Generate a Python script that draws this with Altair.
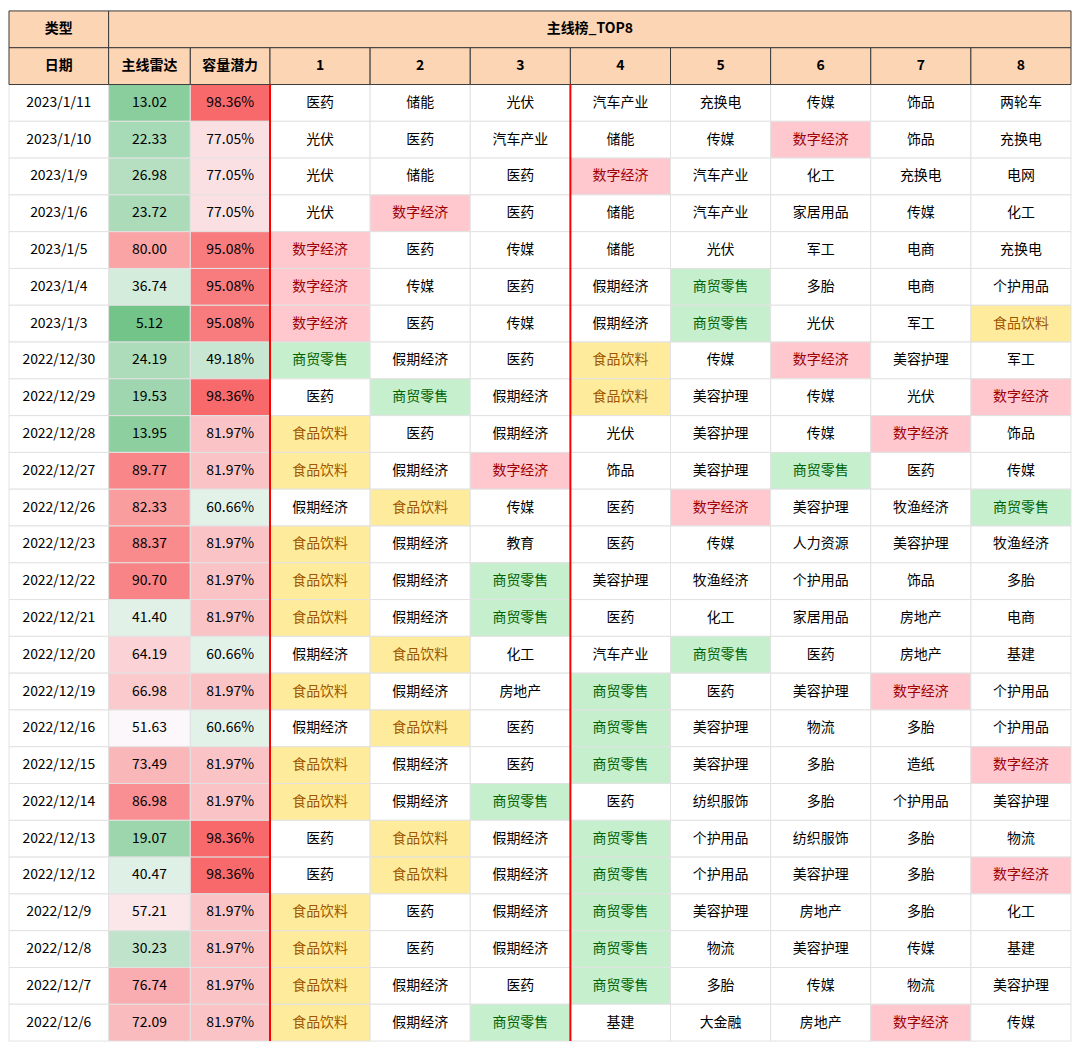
import altair as alt
import pandas as pd

# ---------------- data ----------------
dates = ["2023/1/11", "2023/1/10", "2023/1/9", "2023/1/6", "2023/1/5", "2023/1/4", "2023/1/3",
         "2022/12/30", "2022/12/29", "2022/12/28", "2022/12/27", "2022/12/26", "2022/12/23",
         "2022/12/22", "2022/12/21", "2022/12/20", "2022/12/19", "2022/12/16", "2022/12/15",
         "2022/12/14", "2022/12/13", "2022/12/12", "2022/12/9", "2022/12/8", "2022/12/7", "2022/12/6"]

radar = [13.02, 22.33, 26.98, 23.72, 80.00, 36.74, 5.12, 24.19, 19.53, 13.95, 89.77, 82.33, 88.37,
         90.70, 41.40, 64.19, 66.98, 51.63, 73.49, 86.98, 19.07, 40.47, 57.21, 30.23, 76.74, 72.09]

capacity = [0.9836, 0.7705, 0.7705, 0.7705, 0.9508, 0.9508, 0.9508, 0.4918, 0.9836, 0.8197, 0.8197,
            0.6066, 0.8197, 0.8197, 0.8197, 0.6066, 0.8197, 0.6066, 0.8197, 0.8197, 0.9836, 0.9836,
            0.8197, 0.8197, 0.8197, 0.8197]

top8 = [
    ["医药", "储能", "光伏", "汽车产业", "充换电", "传媒", "饰品", "两轮车"],
    ["光伏", "医药", "汽车产业", "储能", "传媒", "数字经济", "饰品", "充换电"],
    ["光伏", "储能", "医药", "数字经济", "汽车产业", "化工", "充换电", "电网"],
    ["光伏", "数字经济", "医药", "储能", "汽车产业", "家居用品", "传媒", "化工"],
    ["数字经济", "医药", "传媒", "储能", "光伏", "军工", "电商", "充换电"],
    ["数字经济", "传媒", "医药", "假期经济", "商贸零售", "多胎", "电商", "个护用品"],
    ["数字经济", "医药", "传媒", "假期经济", "商贸零售", "光伏", "军工", "食品饮料"],
    ["商贸零售", "假期经济", "医药", "食品饮料", "传媒", "数字经济", "美容护理", "军工"],
    ["医药", "商贸零售", "假期经济", "食品饮料", "美容护理", "传媒", "光伏", "数字经济"],
    ["食品饮料", "医药", "假期经济", "光伏", "美容护理", "传媒", "数字经济", "饰品"],
    ["食品饮料", "假期经济", "数字经济", "饰品", "美容护理", "商贸零售", "医药", "传媒"],
    ["假期经济", "食品饮料", "传媒", "医药", "数字经济", "美容护理", "牧渔经济", "商贸零售"],
    ["食品饮料", "假期经济", "教育", "医药", "传媒", "人力资源", "美容护理", "牧渔经济"],
    ["食品饮料", "假期经济", "商贸零售", "美容护理", "牧渔经济", "个护用品", "饰品", "多胎"],
    ["食品饮料", "假期经济", "商贸零售", "医药", "化工", "家居用品", "房地产", "电商"],
    ["假期经济", "食品饮料", "化工", "汽车产业", "商贸零售", "医药", "房地产", "基建"],
    ["食品饮料", "假期经济", "房地产", "商贸零售", "医药", "美容护理", "数字经济", "个护用品"],
    ["假期经济", "食品饮料", "医药", "商贸零售", "美容护理", "物流", "多胎", "个护用品"],
    ["食品饮料", "假期经济", "医药", "商贸零售", "美容护理", "多胎", "造纸", "数字经济"],
    ["食品饮料", "假期经济", "商贸零售", "医药", "纺织服饰", "多胎", "个护用品", "美容护理"],
    ["医药", "食品饮料", "假期经济", "商贸零售", "个护用品", "纺织服饰", "多胎", "物流"],
    ["医药", "食品饮料", "假期经济", "商贸零售", "个护用品", "美容护理", "多胎", "数字经济"],
    ["食品饮料", "医药", "假期经济", "商贸零售", "美容护理", "房地产", "多胎", "化工"],
    ["食品饮料", "医药", "假期经济", "商贸零售", "物流", "美容护理", "传媒", "基建"],
    ["食品饮料", "假期经济", "医药", "商贸零售", "多胎", "传媒", "物流", "美容护理"],
    ["食品饮料", "假期经济", "商贸零售", "基建", "大金融", "房地产", "数字经济", "传媒"],
]

header_top = ["类型", "主线榜_TOP8"]
header_cols = ["日期", "主线雷达", "容量潜力", "1", "2", "3", "4", "5", "6", "7", "8"]
highlights = ["数字经济", "商贸零售", "食品饮料"]

# ---------------- layout (computed) ----------------
FONT = "Noto Sans CJK SC"
col_widths = [100, 82, 80] + [100.5] * 8
edges = [0]
for w in col_widths:
    edges.append(edges[-1] + w)
W = edges[-1]
ROW_H = 36.93
n_rows = len(dates) + 2
H = round(n_rows * ROW_H)

xs = alt.Scale(domain=[0, W], nice=False, zero=False)
ys = alt.Scale(domain=[0, n_rows], nice=False, zero=False, reverse=True)

# header cells
hdr = [dict(x0=edges[0], x1=edges[1], r0=0, r1=1, text=header_top[0]),
       dict(x0=edges[1], x1=edges[-1], r0=0, r1=1, text=header_top[1])]
for i, t in enumerate(header_cols):
    hdr.append(dict(x0=edges[i], x1=edges[i + 1], r0=1, r1=2, text=t))
hdr_df = pd.DataFrame(hdr)
hdr_df["xc"] = (hdr_df.x0 + hdr_df.x1) / 2
hdr_df["yc"] = hdr_df.r0 + 0.5

# plain cells (date + top8)
plain = []
radar_rows, cap_rows = [], []
for r, d in enumerate(dates):
    rr = r + 2
    plain.append(dict(x0=edges[0], x1=edges[1], r0=rr, r1=rr + 1, text=d, hl="其他"))
    radar_rows.append(dict(x0=edges[1], x1=edges[2], r0=rr, r1=rr + 1, value=radar[r]))
    cap_rows.append(dict(x0=edges[2], x1=edges[3], r0=rr, r1=rr + 1, value=capacity[r]))
    for j, name in enumerate(top8[r]):
        c = 3 + j
        plain.append(dict(x0=edges[c], x1=edges[c + 1], r0=rr, r1=rr + 1, text=name,
                          hl=name if name in highlights else "其他"))
plain_df = pd.DataFrame(plain)
radar_df = pd.DataFrame(radar_rows)
cap_df = pd.DataFrame(cap_rows)
for df in (plain_df, radar_df, cap_df):
    df["xc"] = (df.x0 + df.x1) / 2
    df["yc"] = df.r0 + 0.5

rule_df = pd.DataFrame([dict(x=edges[3], y0=2, y1=n_rows), dict(x=edges[6], y0=2, y1=n_rows)])

hl_domain = highlights + ["其他"]
fill_scale = alt.Scale(domain=hl_domain, range=["#FFC7CE", "#C6EFCE", "#FFEB9C", "#FFFFFF"])
text_scale = alt.Scale(domain=hl_domain, range=["#9C0006", "#006100", "#9C5700", "#000000"])

def rect_enc(base):
    return base.encode(
        x=alt.X("x0:Q", scale=xs, axis=None), x2="x1:Q",
        y=alt.Y("r0:Q", scale=ys, axis=None), y2="r1:Q")

def text_enc(base):
    return base.encode(
        x=alt.X("xc:Q", scale=xs, axis=None),
        y=alt.Y("yc:Q", scale=ys, axis=None))

GRID = "#E2E2E2"

plain_rect = rect_enc(alt.Chart(plain_df).mark_rect(stroke=GRID, strokeWidth=1)).encode(
    color=alt.Color("hl:N", scale=fill_scale, legend=None))
radar_rect = rect_enc(alt.Chart(radar_df).mark_rect(stroke=GRID, strokeWidth=1)).encode(
    color=alt.Color("value:Q", scale=alt.Scale(domain=[0, 50, 100],
                    range=["#63BE7B", "#FCFCFF", "#F8696B"], interpolate="rgb"), legend=None))
cap_rect = rect_enc(alt.Chart(cap_df).mark_rect(stroke=GRID, strokeWidth=1)).encode(
    color=alt.Color("value:Q", scale=alt.Scale(domain=[0.05, 0.72, 0.9836],
                    range=["#63BE7B", "#FCFCFF", "#F8696B"], interpolate="rgb"), legend=None))
hdr_rect = rect_enc(alt.Chart(hdr_df).mark_rect(fill="#FCD5B4", stroke="#3A3A3A", strokeWidth=1)).encode(
    color=alt.value("#FCD5B4"))

plain_text = text_enc(alt.Chart(plain_df).mark_text(font=FONT, fontSize=14, align="center", baseline="middle")).encode(
    text="text:N", color=alt.Color("hl:N", scale=text_scale, legend=None))
radar_text = text_enc(alt.Chart(radar_df).mark_text(font=FONT, fontSize=14, align="center", baseline="middle", color="#000000")).encode(
    text=alt.Text("value:Q", format=".2f"))
cap_text = text_enc(alt.Chart(cap_df).mark_text(font=FONT, fontSize=14, align="center", baseline="middle", color="#000000")).encode(
    text=alt.Text("value:Q", format=".2%"))
hdr_text = text_enc(alt.Chart(hdr_df).mark_text(font=FONT, fontSize=14, fontWeight="bold", align="center", baseline="middle", color="#000000")).encode(
    text="text:N")

rules = alt.Chart(rule_df).mark_rule(color="#FF0000", strokeWidth=2).encode(
    x=alt.X("x:Q", scale=xs, axis=None),
    y=alt.Y("y0:Q", scale=ys, axis=None), y2="y1:Q")

chart = alt.layer(
    plain_rect, radar_rect, cap_rect, hdr_rect,
    plain_text, radar_text, cap_text, hdr_text, rules
).resolve_scale(color="independent").properties(
    width=W, height=H, padding=0, background="#FFFFFF"
).configure_view(stroke=None)

chart.save("out.html", embed_options={"renderer": "svg", "actions": False})
